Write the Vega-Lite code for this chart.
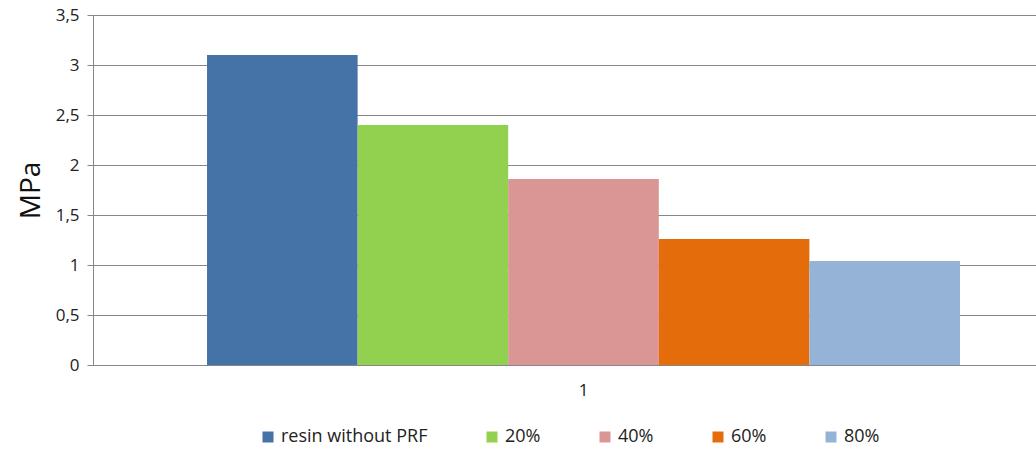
{
  "$schema": "https://vega.github.io/schema/vega-lite/v6.json",
  "autosize": "none",
  "width": 943,
  "height": 350,
  "padding": {"left": 93, "top": 15, "right": 0, "bottom": 84},
  "background": "white",
  "config": {
    "font": "Open Sans",
    "view": {"stroke": null}
  },
  "data": {
    "values": [
      {"cat": "1", "series": "resin without PRF", "value": 3.1},
      {"cat": "1", "series": "20%", "value": 2.4},
      {"cat": "1", "series": "40%", "value": 1.86},
      {"cat": "1", "series": "60%", "value": 1.26},
      {"cat": "1", "series": "80%", "value": 1.04}
    ]
  },
  "mark": {"type": "bar"},
  "encoding": {
    "x": {
      "field": "cat",
      "type": "nominal",
      "scale": {"paddingInner": 0, "paddingOuter": 0.1262, "align": 0.6},
      "axis": {
        "title": null,
        "labelAngle": 0,
        "labelFontSize": 17,
        "labelColor": "#222222",
        "labelPadding": 17,
        "domainColor": "#868686",
        "ticks": false,
        "grid": false
      }
    },
    "xOffset": {
      "field": "series",
      "type": "nominal",
      "sort": ["resin without PRF", "20%", "40%", "60%", "80%"],
      "scale": {"paddingInner": 0, "paddingOuter": 0}
    },
    "y": {
      "field": "value",
      "type": "quantitative",
      "scale": {"domain": [0, 3.5]},
      "axis": {
        "title": "MPa",
        "titleFontSize": 28,
        "titleFontWeight": "normal",
        "titleColor": "#111111",
        "titlePadding": 10,
        "values": [0, 0.5, 1, 1.5, 2, 2.5, 3, 3.5],
        "format": ",.1~f",
        "labelExpr": "replace(datum.label, '.', ',')",
        "labelFontSize": 17,
        "labelColor": "#222222",
        "labelPadding": 8,
        "tickColor": "#868686",
        "tickSize": 6,
        "domainColor": "#868686",
        "gridColor": "#868686",
        "gridWidth": 1
      }
    },
    "color": {
      "field": "series",
      "type": "nominal",
      "sort": ["resin without PRF", "20%", "40%", "60%", "80%"],
      "scale": {
        "domain": ["resin without PRF", "20%", "40%", "60%", "80%"],
        "range": ["#4572A7", "#92D050", "#D99694", "#E46C0A", "#95B3D7"]
      },
      "legend": {
        "title": null,
        "orient": "none",
        "legendX": 166,
        "legendY": 413,
        "direction": "horizontal",
        "symbolType": "square",
        "symbolSize": 121,
        "symbolStrokeWidth": 0,
        "labelFontSize": 18,
        "labelColor": "#222222",
        "labelOffset": 4,
        "columnPadding": 55
      }
    }
  }
}
